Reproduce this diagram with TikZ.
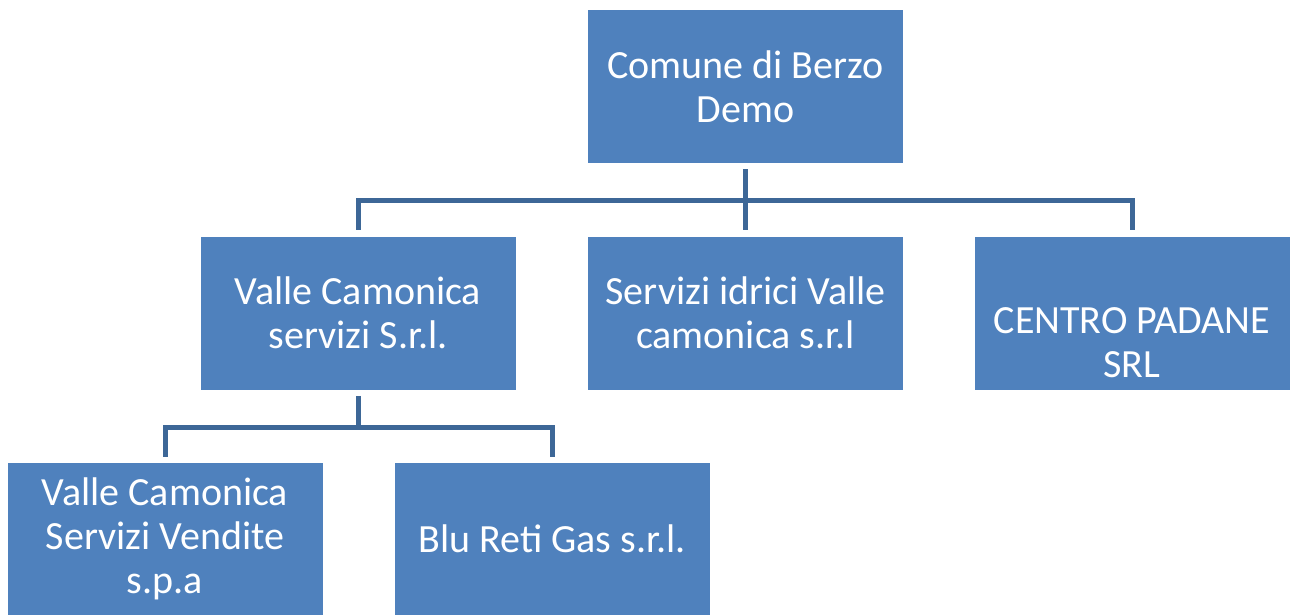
\documentclass[tikz,border=0pt]{standalone}
\usepackage{fontspec}
\setmainfont{Carlito}
\usetikzlibrary{arrows,backgrounds}
\definecolor{boxblue}{HTML}{4F81BD}
\definecolor{lineblue}{RGB}{61,103,151}

\begin{document}
\begin{tikzpicture}[x=0.5pt,y=-0.5pt]
\tikzstyle{unit}=[rectangle, fill=boxblue, text=white, align=center, inner sep=0pt, minimum width=157.5pt, minimum height=76.5pt, font=\fontsize{20}{22}\selectfont]
\tikzstyle{link}=[draw=lineblue, line width=2.5pt]
\useasboundingbox (0,0) rectangle (1290,615);

% Top
\node at (745.5, 86.5) [unit] (first_1) {Comune di Berzo\\Demo};

% Layer 2
\node at (358, 313) [unit] (second_1) {Valle Camonica\\servizi S.r.l.};
\node at (745.5, 313) [unit] (second_2) {Servizi idrici Valle\\camonica s.r.l};
\node at (1132, 313) [unit] (second_3) {\rule{0pt}{43pt}CENTRO PADANE\\SRL};

% Layer 3
\node at (165, 539) [unit, minimum height=76pt] (third_1) {Valle Camonica\\Servizi Vendite\\s.p.a};
\node at (552, 539) [unit, minimum height=76pt] (third_2) {Blu Reti Gas s.r.l.};

% Top -> Layer 2
\coordinate (bus_1) at (745.5, 200);
\draw [link, shorten <=3pt] (first_1.south) to (first_1.south |- bus_1);
\foreach \j in {1,...,3}
\draw [link, shorten >=3pt] (first_1.south |- bus_1) -| (second_\j.north);

% Layer 2 -> Layer 3
\coordinate (bus_2) at (358, 427);
\draw [link, shorten <=3pt] (second_1.south) to (second_1.south |- bus_2);
\foreach \j in {1,2}
\draw [link, shorten >=3pt] (second_1.south |- bus_2) -| (third_\j.north);
\end{tikzpicture}
\end{document}
